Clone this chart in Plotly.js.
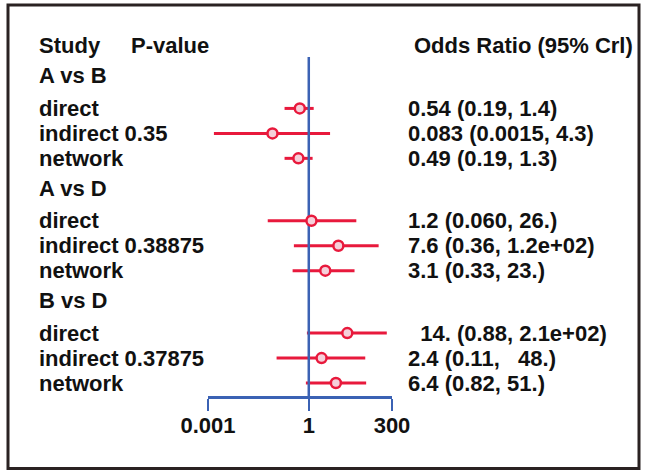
<!DOCTYPE html>
<html>
<head>
<meta charset="utf-8">
<script src="https://cdn.plot.ly/plotly-3.0.1.min.js"></script>
<style>
  html, body { margin: 0; padding: 0; background: #ffffff; }
  #chart { width: 645px; height: 472px; }
</style>
</head>
<body>
<div id="chart"></div>
<script>
// ---- data ----
const comparisons = ['A vs B', 'A vs D', 'B vs D'];
const methods = ['direct', 'indirect', 'network'];
const pValues = ['0.35', '0.38875', '0.37875'];
const orEstimate = [0.54, 0.083, 0.49, 1.2, 7.6, 3.1, 14, 2.4, 6.4];
const orLower = [0.19, 0.0015, 0.19, 0.060, 0.36, 0.33, 0.88, 0.11, 0.82];
const orUpper = [1.4, 4.3, 1.3, 26, 120, 23, 210, 48, 51];
const orLabels = [
  '0.54 (0.19, 1.4)', '0.083 (0.0015, 4.3)', '0.49 (0.19, 1.3)',
  '1.2 (0.060, 26.)', '7.6 (0.36, 1.2e+02)', '3.1 (0.33, 23.)',
  '\u00a0\u00a014. (0.88, 2.1e+02)', '2.4 (0.11,\u00a0\u00a0\u00a048.)', '6.4 (0.82, 51.)'
];
const tickValues = [0.001, 1, 300];
const tickLabels = ['0.001', '1', '300'];
const nullValue = 1;

// ---- layout helpers (row positions) ----
const GROUP_STEP = 4.5, FIRST_ROW = 1.3;
const rowY = [], headerY = [];
comparisons.forEach((c, g) => {
  headerY.push(g * GROUP_STEP);
  methods.forEach((m, i) => rowY.push(g * GROUP_STEP + FIRST_ROW + i));
});
const yTop = -0.76, yBottom = 12.82;
const TICK_LEN = 12, PX_PER_ROW = 25;

const RED = '#e8193c', BLUE = '#3b62b4', PINK = '#f5d0da', INK = '#111111';
const FONT = 'Liberation Sans, Arial, Helvetica, sans-serif';
const FS = 22;

const ciTrace = {
  type: 'scatter', mode: 'markers',
  x: orEstimate, y: rowY,
  marker: { size: 1, opacity: 0 },
  error_x: {
    type: 'data', symmetric: false,
    array: orUpper.map((u, i) => u - orEstimate[i]),
    arrayminus: orLower.map((l, i) => orEstimate[i] - l),
    color: RED, thickness: 3, width: 0
  },
  cliponaxis: false, hoverinfo: 'skip'
};
const nullLine = {
  type: 'scatter', mode: 'lines',
  x: [nullValue, nullValue], y: [yTop, yBottom + TICK_LEN / PX_PER_ROW],
  line: { color: BLUE, width: 2.5 },
  cliponaxis: false, hoverinfo: 'skip'
};
const pointTrace = {
  type: 'scatter', mode: 'markers',
  x: orEstimate, y: rowY,
  marker: { symbol: 'circle', size: 10, color: PINK, line: { color: RED, width: 2.5 } },
  cliponaxis: false, hoverinfo: 'skip'
};

const L = 208, R = 392, T = 57, B = 396.5, W = 645, H = 472;
const px2x = p => (p - L) / (R - L);
const py2y = p => (B - p) / (B - T);

const annotations = [];
const ann = (text, x, y, yref) => annotations.push({
  text, x, y, xref: 'paper', yref: yref || 'y', xanchor: 'left', yanchor: 'middle',
  showarrow: false, font: { family: FONT, size: FS, color: INK, weight: 'bold' }
});
ann('<b>Study</b>', px2x(37), py2y(45), 'paper');
ann('<b>P-value</b>', px2x(129), py2y(45), 'paper');
ann('<b>Odds Ratio (95% Crl)</b>', px2x(412), py2y(45), 'paper');
comparisons.forEach((c, g) => ann('<b>' + c + '</b>', px2x(37), headerY[g]));
rowY.forEach((y, k) => {
  const g = Math.floor(k / methods.length), i = k % methods.length;
  const label = methods[i] + (methods[i] === 'indirect' ? ' ' + pValues[g] : '');
  ann('<b>' + label + '</b>', px2x(37), y);
  ann('<b>' + orLabels[k] + '</b>', px2x(406), y);
});

const layout = {
  width: W, height: H,
  margin: { l: L, r: W - R, t: T, b: H - B, pad: 0 },
  paper_bgcolor: '#ffffff', plot_bgcolor: '#ffffff',
  showlegend: false,
  xaxis: {
    type: 'log', range: [Math.log10(tickValues[0]), Math.log10(tickValues[2])],
    showgrid: false, zeroline: false,
    showline: true, linecolor: BLUE, linewidth: 2.5,
    ticks: 'outside', ticklen: TICK_LEN, tickwidth: 2.5, tickcolor: BLUE,
    tickmode: 'array', tickvals: tickValues, ticktext: tickLabels,
    ticklabelstandoff: -4,
    tickfont: { family: FONT, size: FS, color: INK, weight: 'bold' },
    fixedrange: true
  },
  yaxis: { visible: false, range: [yBottom, yTop], fixedrange: true },
  shapes: [
    { type: 'rect', xref: 'paper', yref: 'paper', x0: px2x(8), x1: px2x(639), y0: py2y(469), y1: py2y(5),
      line: { color: '#2a2222', width: 3 } }
  ],
  annotations
};

Plotly.newPlot('chart', [ciTrace, nullLine, pointTrace], layout, { displayModeBar: false, staticPlot: true });
</script>
</body>
</html>
